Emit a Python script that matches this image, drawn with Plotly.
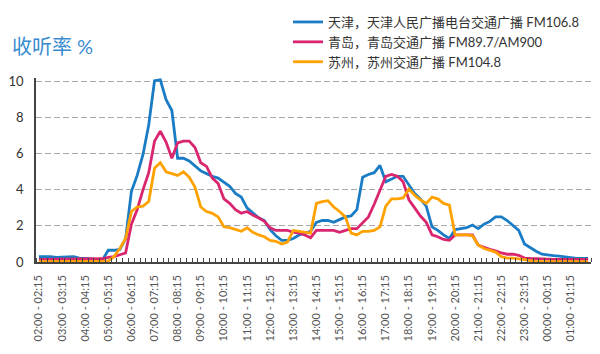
import plotly.graph_objects as go

# ---- categories (15-minute slots from 02:00 to 01:45 next day) ----
start_hours = [2, 3, 4, 5, 6, 7, 8, 9, 10, 11, 12, 13, 14, 15, 16, 17, 18, 19,
               20, 21, 22, 23, 0, 1]
quarters = [0, 15, 30, 45]
categories = []
for h in start_hours:
    for q in quarters:
        eh, em = (h, q + 15) if q < 45 else ((h + 1) % 24, 0)
        categories.append(f"{h:02d}:{q:02d} - {eh:02d}:{em:02d}")

# hourly tick labels (every 4th slot)
tick_pos = [i for i in range(len(categories)) if i % 4 == 0]
tick_labels = [categories[i] for i in tick_pos]

# ---- series values (listening rate %) ----
tianjin = [0.3, 0.3, 0.3, 0.25, 0.25, 0.28, 0.3, 0.22, 0.2, 0.18, 0.15, 0.12,
           0.65, 0.65, 0.7, 1.3, 3.9, 4.8, 5.95, 7.6, 10.05, 10.1, 9.0, 8.4,
           5.75, 5.75, 5.6, 5.35, 5.05, 4.9, 4.75, 4.65, 4.4, 4.2, 3.8, 3.6,
           3.0, 2.7, 2.45, 2.3, 1.8, 1.45, 1.2, 1.2, 1.3, 1.5, 1.6, 1.7,
           2.2, 2.3, 2.3, 2.2, 2.35, 2.5, 2.55, 2.9, 4.7, 4.85, 4.95, 5.35,
           4.45, 4.6, 4.75, 4.75, 4.3, 3.8, 3.5, 3.1, 1.95, 1.75, 1.5, 1.3,
           1.8, 1.85, 1.9, 2.05, 1.85, 2.1, 2.25, 2.5, 2.5, 2.3, 2.05, 1.75,
           1.0, 0.78, 0.6, 0.43, 0.37, 0.35, 0.32, 0.28, 0.2, 0.2, 0.2, 0.2]

qingdao = [0.15, 0.15, 0.15, 0.15, 0.15, 0.15, 0.15, 0.15, 0.15, 0.15, 0.15, 0.18,
           0.25, 0.3, 0.4, 0.5, 2.1, 2.9, 4.0, 4.95, 6.7, 7.25, 6.65, 5.75,
           6.6, 6.7, 6.7, 6.35, 5.5, 5.3, 4.65, 4.35, 3.5, 3.25, 2.9, 2.7,
           2.8, 2.6, 2.45, 2.25, 1.9, 1.75, 1.75, 1.75, 1.65, 1.6, 1.5, 1.35,
           1.75, 1.75, 1.75, 1.75, 1.65, 1.75, 1.85, 1.85, 2.15, 2.5, 3.2, 4.0,
           4.75, 4.85, 4.75, 4.45, 3.45, 3.0, 2.55, 2.2, 1.5, 1.4, 1.25, 1.2,
           1.5, 1.5, 1.5, 1.5, 0.93, 0.8, 0.7, 0.62, 0.5, 0.43, 0.43, 0.37,
           0.22, 0.2, 0.18, 0.15, 0.15, 0.15, 0.15, 0.15, 0.15, 0.15, 0.15, 0.15]

suzhou = [0.02, 0.02, 0.02, 0.02, 0.02, 0.02, 0.02, 0.02, 0.02, 0.02, 0.02, 0.02,
          0.05, 0.3, 0.75, 1.3, 2.8, 3.05, 3.1, 3.35, 5.2, 5.5, 5.0, 4.9,
          4.8, 5.0, 4.7, 4.15, 3.05, 2.8, 2.7, 2.5, 1.95, 1.9, 1.8, 1.7,
          1.9, 1.65, 1.5, 1.4, 1.2, 1.15, 1.0, 1.1, 1.75, 1.7, 1.65, 1.6,
          3.25, 3.35, 3.4, 3.05, 2.8, 2.5, 1.6, 1.5, 1.7, 1.7, 1.75, 1.95,
          3.1, 3.5, 3.5, 3.55, 4.05, 3.7, 3.45, 3.25, 3.6, 3.5, 3.25, 3.15,
          1.5, 1.5, 1.5, 1.45, 0.93, 0.75, 0.65, 0.55, 0.3, 0.22, 0.22, 0.19,
          0.13, 0.07, 0.02, 0.02, 0.02, 0.02, 0.02, 0.02, 0.02, 0.02, 0.02, 0.02]

series_names = ["天津，天津人民广播电台交通广播 FM106.8",
                "青岛，青岛交通广播 FM89.7/AM900",
                "苏州，苏州交通广播 FM104.8"]
series_values = [tianjin, qingdao, suzhou]
series_colors = ["#1b7cc6", "#d9266f", "#ffa200"]

y_ticks = [0, 2, 4, 6, 8, 10]

FONT = "Lato, 'Noto Sans CJK SC', sans-serif"

slot_index = list(range(len(categories)))

fig = go.Figure()
for name, vals, col in zip(series_names, series_values, series_colors):
    fig.add_trace(go.Scatter(x=slot_index, y=vals, name=name, mode="lines",
                             customdata=categories,
                             hovertemplate="%{customdata}: %{y}<extra></extra>",
                             line=dict(color=col, width=2.8)))

fig.update_layout(
    width=600, height=354,
    margin=dict(l=36, r=9, t=78, b=92, autoexpand=False),
    paper_bgcolor="white", plot_bgcolor="white",
    font=dict(family=FONT, color="#333"),
    title=dict(text="收听率 %", x=12 / 600, xanchor="left", xref="container",
               y=1 - 47 / 354, yanchor="middle", yref="container",
               font=dict(size=20, color="#3a8ccf", family=FONT)),
    legend=dict(x=288 / 600, xref="container", xanchor="left",
                y=1 - 7 / 354, yref="container", yanchor="top",
                font=dict(size=13, color="#333", family=FONT),
                bgcolor="rgba(0,0,0,0)", itemwidth=30, tracegroupgap=0),
    showlegend=True,
)

fig.update_xaxes(range=[-0.5, len(categories) - 0.5], tickmode="array",
                 tickvals=tick_pos, ticktext=tick_labels, ticks="",
                 tickangle=-90,
                 tickfont=dict(size=11, color="#555", family=FONT),
                 ticklabelstandoff=7,
                 minor=dict(ticks="inside", ticklen=4, tickwidth=1,
                            tickcolor="#444", tickmode="linear",
                            tick0=0.5, dtick=1, showgrid=False),
                 showline=True, linecolor="#444", linewidth=1.5,
                 showgrid=False, zeroline=False)

fig.update_yaxes(range=[0, 10.2], tickmode="array", tickvals=y_ticks,
                 showgrid=True, gridcolor="#a8a8a8", gridwidth=1,
                 griddash="6px,3px", showline=True, linecolor="#444",
                 linewidth=1.5, zeroline=False, ticks="",
                 tickfont=dict(size=13, color="#333", family=FONT),
                 ticklabelstandoff=8)

fig.write_html("out.html")
